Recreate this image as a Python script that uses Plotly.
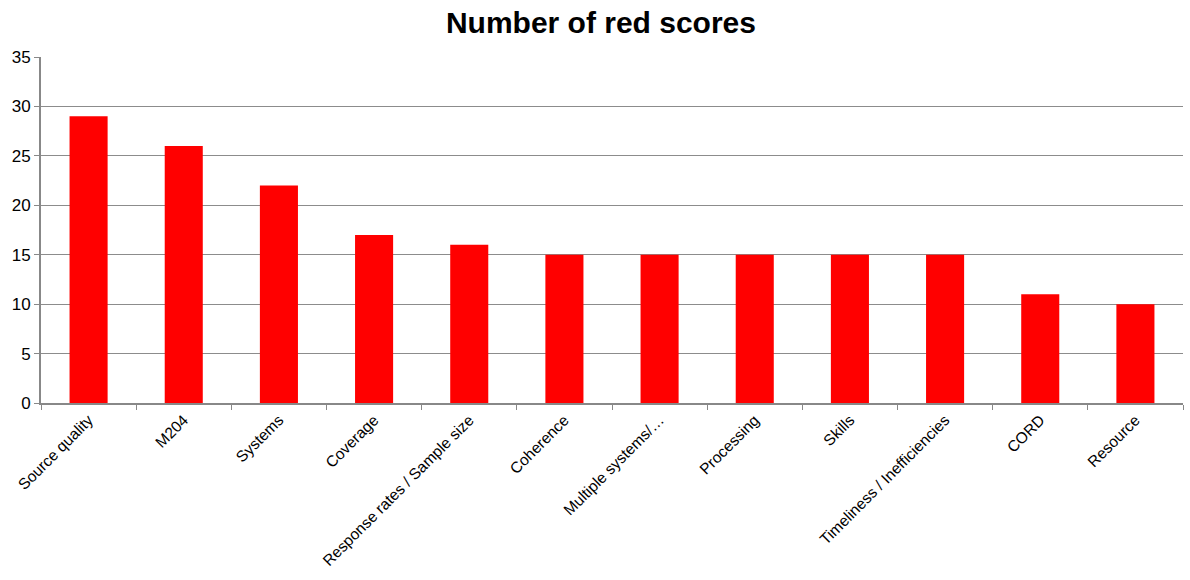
import plotly.graph_objects as go

categories = ["Source quality", "M204", "Systems", "Coverage", "Response rates / Sample size",
              "Coherence", "Multiple systems/…", "Processing", "Skills",
              "Timeliness / Inefficiencies", "CORD", "Resource"]
values = [29, 26, 22, 17, 16, 15, 15, 15, 15, 15, 11, 10]

fig = go.Figure(go.Bar(x=categories, y=values, marker=dict(color="#ff0000", line=dict(width=0))))

fig.update_layout(
    width=1190, height=580,
    margin=dict(l=41, r=7, t=57, b=177),
    paper_bgcolor="white", plot_bgcolor="white",
    font=dict(family="Liberation Sans, Arial, sans-serif", color="black"),
    title=dict(text="<b>Number of red scores</b>", x=0.505, xanchor="center", y=0.962, yanchor="middle",
               font=dict(size=30, color="black")),
    bargap=0.6,
    showlegend=False,
)
fig.update_xaxes(tickangle=-45, tickfont=dict(size=15.5), showline=True, linecolor="#888888", linewidth=2,
                 ticks="outside", tickson="boundaries", ticklen=5, tickcolor="#888888", showgrid=False)
fig.update_yaxes(range=[0, 35], dtick=5, tickfont=dict(size=17), showline=True, linecolor="#888888", linewidth=2,
                 ticks="outside", ticklen=5, tickcolor="#888888", gridcolor="#8c8c8c", gridwidth=1,
                 zeroline=False)

fig.write_html("out.html")
